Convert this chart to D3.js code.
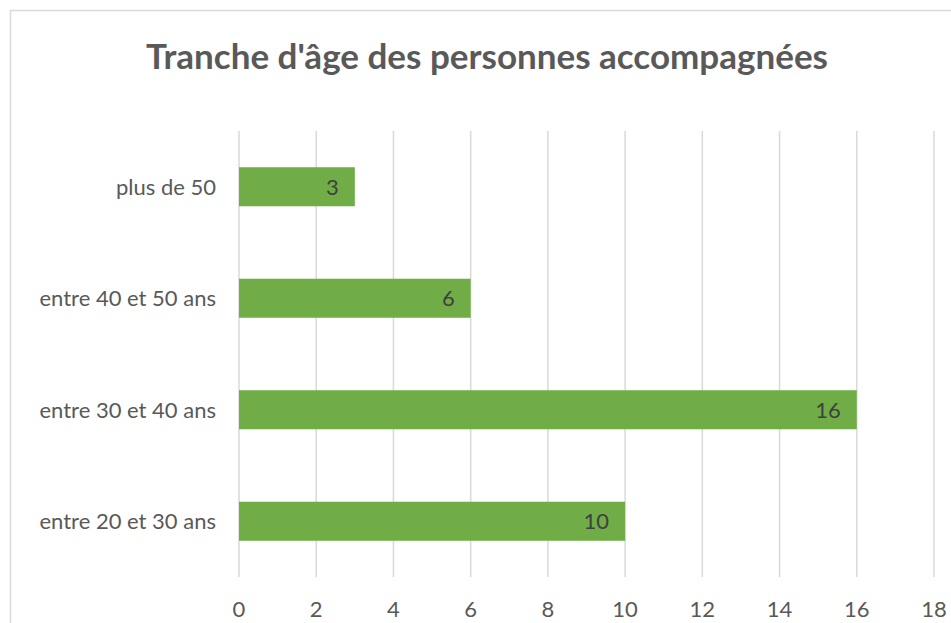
<!DOCTYPE html>
<html>
<head>
<meta charset="utf-8">
<script src="https://cdn.jsdelivr.net/npm/d3@7"></script>
<style>
  body { margin: 0; background: #fff; }
  text { font-family: Lato, "Open Sans", sans-serif; }
</style>
</head>
<body>
<svg></svg>
<script>
// Age brackets, top to bottom as drawn
var categories = ["plus de 50", "entre 40 et 50 ans", "entre 30 et 40 ans", "entre 20 et 30 ans"]
var values = [3, 6, 16, 10]
var tickValues = [0, 2, 4, 6, 8, 10, 12, 14, 16, 18]
var title = "Tranche d'âge des personnes accompagnées"

var canvasSize = {width: 951, height: 623}
var plot = {left: 239, right: 934, top: 131, bottom: 577}

var svg = d3.select("svg")
    .attr("width", canvasSize.width)
    .attr("height", canvasSize.height)

// chart frame (only top and left edges are visible in the crop)
svg.append("rect")
    .attr("x", 10.5).attr("y", 10.5)
    .attr("width", 1000).attr("height", 700)
    .attr("fill", "none")
    .attr("stroke", "#d9d9d9")
    .attr("stroke-width", 1.5)

svg.append("text")
    .attr("x", 487)
    .attr("y", 69)
    .attr("text-anchor", "middle")
    .attr("font-size", 35)
    .attr("font-weight", "bold")
    .attr("fill", "#595959")
    .text(title)

var x = d3.scaleLinear()
    .domain([0, 18])
    .range([plot.left, plot.right])

var y = d3.scaleBand()
    .domain(categories)
    .range([plot.top, plot.bottom])
    .paddingInner(0.65)
    .paddingOuter(0.325)

// vertical gridlines
svg.append("g").selectAll("line")
    .data(tickValues)
    .enter().append("line")
    .attr("x1", d => x(d)).attr("x2", d => x(d))
    .attr("y1", plot.top).attr("y2", plot.bottom)
    .attr("stroke", "#d9d9d9")
    .attr("stroke-width", 1.5)

// x tick labels
svg.append("g").selectAll("text")
    .data(tickValues)
    .enter().append("text")
    .attr("x", d => x(d))
    .attr("y", 617)
    .attr("text-anchor", "middle")
    .attr("font-size", 22)
    .attr("fill", "#595959")
    .text(d => d)

// bars
svg.append("g").selectAll("rect")
    .data(values)
    .enter().append("rect")
    .attr("x", x(0))
    .attr("y", (d, i) => y(categories[i]))
    .attr("width", d => x(d) - x(0))
    .attr("height", y.bandwidth())
    .attr("fill", "#70ad47")

// value labels, inside end
svg.append("g").selectAll("text")
    .data(values)
    .enter().append("text")
    .attr("x", d => x(d) - 16)
    .attr("y", (d, i) => y(categories[i]) + y.bandwidth() / 2 + 8)
    .attr("text-anchor", "end")
    .attr("font-size", 22)
    .attr("fill", "#404040")
    .text(d => d)

// category labels
svg.append("g").selectAll("text")
    .data(categories)
    .enter().append("text")
    .attr("x", 216)
    .attr("y", d => y(d) + y.bandwidth() / 2 + 8)
    .attr("text-anchor", "end")
    .attr("font-size", 22)
    .attr("fill", "#595959")
    .text(d => d)
</script>
</body>
</html>
